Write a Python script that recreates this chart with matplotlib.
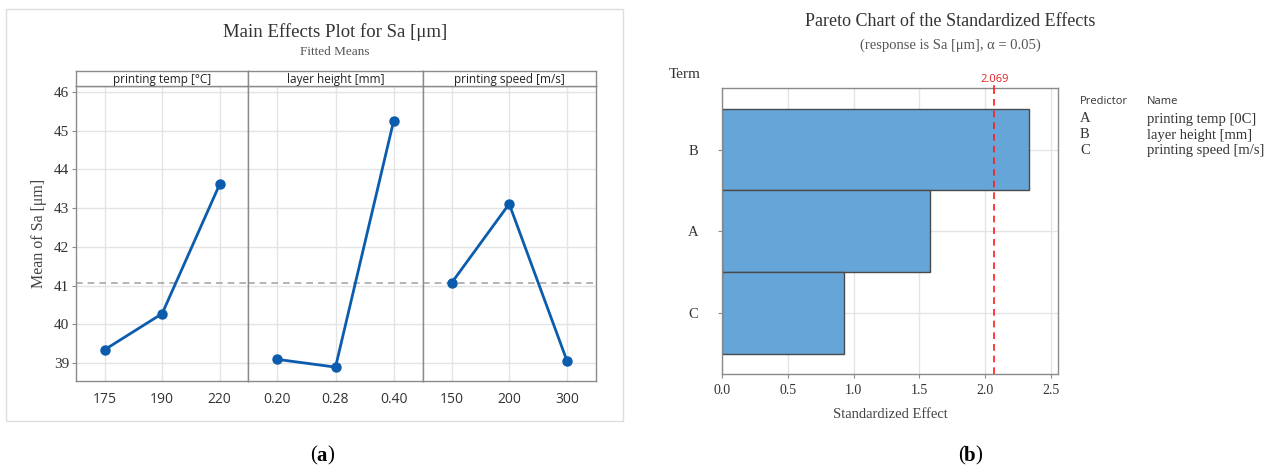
import matplotlib
matplotlib.use("Agg")
import matplotlib.pyplot as plt
from matplotlib.patches import Rectangle

# ---------------- data ----------------
factor_names = ['printing temp [°C]', 'layer height [mm]', 'printing speed [m/s]']
temp_levels = ['175', '190', '220']
temp_means = [39.35, 40.28, 43.61]
layer_levels = ['0.20', '0.28', '0.40']
layer_means = [39.10, 38.90, 45.25]
speed_levels = ['150', '200', '300']
speed_means = [41.07, 43.11, 39.07]
overall_mean = 41.08
y_ticks = [39, 40, 41, 42, 43, 44, 45, 46]

terms = ['B', 'A', 'C']
effects = [2.334, 1.584, 0.928]
critical_value = 2.069
x_ticks_pareto = [0.0, 0.5, 1.0, 1.5, 2.0, 2.5]
predictors = ['A', 'B', 'C']
predictor_names = ['printing temp [0C]', 'layer height [mm]', 'printing speed [m/s]']

# ---------------- figure ----------------
W, H = 1285, 472
fig = plt.figure(figsize=(W / 100, H / 100), dpi=100)
fig.patch.set_facecolor('white')

SERIF = ['Liberation Serif', 'DejaVu Serif']
SANS = ['Open Sans', 'DejaVu Sans']


def ax_px(l, t, r, b, **kw):
    return fig.add_axes([l / W, 1 - b / H, (r - l) / W, (b - t) / H], **kw)


def fx(x):
    return x / W


def fy(y):
    return 1 - y / H


# outer frame of panel (a)
fig.patches.append(Rectangle((fx(6), fy(421)), fx(623) - fx(6), fy(9) - fy(421),
                             transform=fig.transFigure, fill=False,
                             edgecolor='#dedede', linewidth=1.0))

fig.text(fx(335), fy(32), 'Main Effects Plot for Sa [μm]', ha='center', va='center',
         fontsize=13.5, family=SERIF, color='#333333')
fig.text(fx(335), fy(52), 'Fitted Means', ha='center', va='center',
         fontsize=9.5, family=SERIF, color='#555555')

line_color = '#0b5cad'
spine_color = '#8a8a8a'
grid_color = '#e4e4e4'

panels = [(temp_levels, temp_means), (layer_levels, layer_means), (speed_levels, speed_means)]
edges = [76, 248.3, 422.7, 595.7]
ylo, yhi = 38.55, 46.15
for i, (levels, means) in enumerate(panels):
    ax = ax_px(edges[i], 86, edges[i + 1], 380.7)
    xs = list(range(len(levels)))
    ax.set_xlim(-0.5, len(levels) - 0.5)
    ax.set_ylim(ylo, yhi)
    ax.set_yticks(y_ticks)
    ax.set_xticks(xs)
    ax.set_xticklabels(levels, family=SANS, fontsize=10, color='#333333')
    ax.grid(True, color=grid_color, linewidth=1.0)
    ax.set_axisbelow(True)
    ax.axhline(overall_mean, color='#a8a8a8', linestyle=(0, (4, 3)), linewidth=1.2, zorder=1)
    ax.plot(xs, means, color=line_color, linewidth=2.0, marker='o', markersize=6.5, zorder=3)
    for s in ax.spines.values():
        s.set_color(spine_color)
        s.set_linewidth(1.0)
    ax.tick_params(axis='x', length=0, pad=8)
    if i == 0:
        ax.tick_params(axis='y', length=3, color=spine_color, pad=2)
        ax.set_yticklabels([str(t) for t in y_ticks], family=SERIF, fontsize=11, color='#333333')
        ax.set_ylabel('Mean of Sa [μm]', family=SERIF, fontsize=11.5, color='#444444', labelpad=5)
    else:
        ax.tick_params(axis='y', length=0, labelleft=False)
    # strip
    sax = ax_px(edges[i], 70.5, edges[i + 1], 86)
    sax.set_xticks([])
    sax.set_yticks([])
    for s in sax.spines.values():
        s.set_color(spine_color)
        s.set_linewidth(1.0)
    sax.text(0.5, 0.45, factor_names[i], ha='center', va='center', transform=sax.transAxes,
             family=SANS, fontsize=8.5, color='#222222')

# ---------------- Pareto chart ----------------
fig.text(fx(950), fy(21), 'Pareto Chart of the Standardized Effects', ha='center', va='center',
         fontsize=13, family=SERIF, color='#333333')
fig.text(fx(950), fy(45), '(response is Sa [μm], α = 0.05)', ha='center', va='center',
         fontsize=10.5, family=SERIF, color='#555555')
fig.text(fx(685), fy(75), 'Term', ha='center', va='center', fontsize=11, family=SERIF, color='#333333')

pax = ax_px(722, 88.3, 1058.3, 374.3)
ypos = list(range(len(terms)))
pax.barh(ypos, effects, height=1.0, color='#66a5d8', edgecolor='#4a4a4a', linewidth=1.0, zorder=2)
pax.set_ylim(len(terms) - 0.25, -0.75)
pax.set_xlim(0, 2.555)
pax.set_yticks(ypos)
pax.set_yticklabels(terms, family=SERIF, fontsize=10.5, color='#333333')
pax.set_xticks(x_ticks_pareto)
pax.set_xticklabels([f'{v:.1f}' for v in x_ticks_pareto], family=SERIF, fontsize=10, color='#333333')
pax.grid(True, color=grid_color, linewidth=1.0)
pax.set_axisbelow(True)
pax.axvline(critical_value, color='#ff1a1a', linestyle=(0, (4, 3)), linewidth=1.2, zorder=3)
pax.plot([critical_value, critical_value], [-0.75, -0.78], color='#ff1a1a',
         linewidth=1.2, clip_on=False)
pax.text(critical_value, -0.79, f'{critical_value:.3f}', ha='center', va='bottom',
         color='#e02020', family=SANS, fontsize=8)
for s in pax.spines.values():
    s.set_color(spine_color)
    s.set_linewidth(1.0)
pax.tick_params(axis='both', length=3, color=spine_color)
pax.tick_params(axis='y', pad=14)
pax.tick_params(axis='x', pad=4)
pax.set_xlabel('Standardized Effect', family=SERIF, fontsize=10.5, color='#444444', labelpad=8)

# legend table
fig.text(fx(1080), fy(102), 'Predictor', ha='left', va='center', family=SANS, fontsize=8, color='#333333')
fig.text(fx(1147), fy(102), 'Name', ha='left', va='center', family=SANS, fontsize=8, color='#333333')
for k, (p, n) in enumerate(zip(predictors, predictor_names)):
    yy = 119 + k * 16
    fig.text(fx(1080), fy(yy), p, ha='left', va='center', family=SERIF, fontsize=10.5, color='#333333')
    fig.text(fx(1147), fy(yy), n, ha='left', va='center', family=SERIF, fontsize=10.5, color='#333333')

# panel labels
for cx, letter in [(322, 'a'), (970, 'b')]:
    fig.text(fx(cx), fy(456), letter, ha='center', va='center', family=SERIF,
             fontsize=15, fontweight='bold', color='black')
    fig.text(fx(cx - 5), fy(456), '(', ha='right', va='center', family=SERIF, fontsize=15, color='black')
    fig.text(fx(cx + 5), fy(456), ')', ha='left', va='center', family=SERIF, fontsize=15, color='black')

fig.savefig('out.png', dpi=100, facecolor='white')
